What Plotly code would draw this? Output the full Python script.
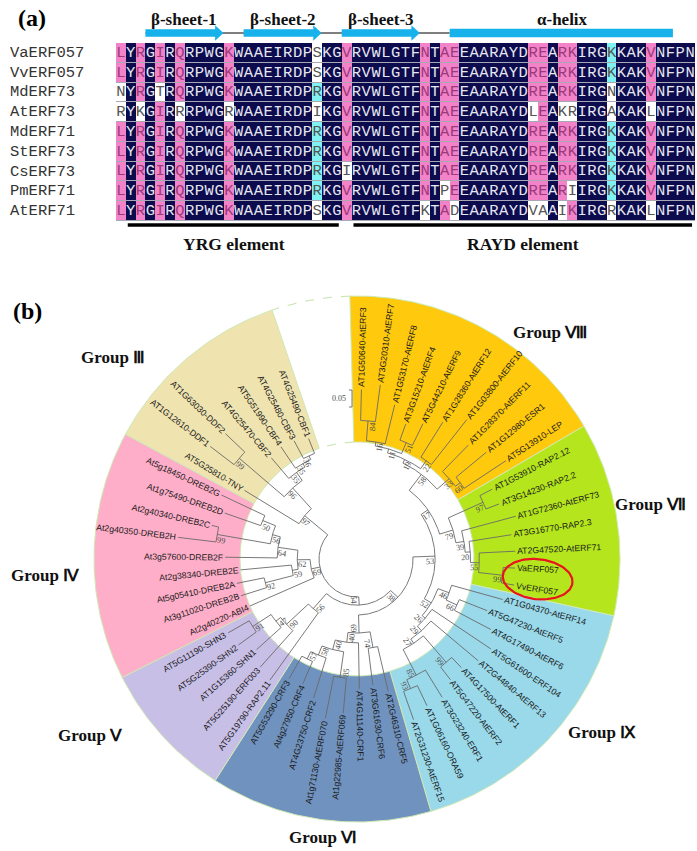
import math
import plotly.graph_objects as go

W, H = 697, 851

# ------------------------------------------------------------------ data (a)
SEQ_NAMES = ["VaERF057", "VvERF057", "MdERF73", "AtERF73", "MdERF71",
             "StERF73", "CsERF73", "PmERF71", "AtERF71"]
SEQUENCES = [
    "LYRGIRQRPWGKWAAEIRDPSKGVRVWLGTFNTAEEAARAYDREARKIRGKKAKVNFPN",
    "LYRGIRQRPWGKWAAEIRDPSKGVRVWLGTFNTAEEAARAYDREARKIRGKKAKVNFPN",
    "NYRGTRQRPWGKWAAEIRDPRKGVRVWLGTFNTAEEAARAYDREARKIRGNKAKVNFPN",
    "RYKGIRRRPWGRWAAEIRDPIKGVRVWLGTFNTAEEAARAYDLEAKRIRGAKAKLNFPN",
    "LYRGIRQRPWGKWAAEIRDPRKGVRVWLGTFNTAEEAARAYDREARKIRGKKAKVNFPN",
    "LYRGIRQRPWGKWAAEIRDPRKGVRVWLGTFNTAEEAARAYDREARKIRGKKAKVNFPN",
    "LYRGIRQRPWGKWAAEIRDPRKGIRVWLGTFNTAEEAARAYDREARKIRGKKAKVNFPN",
    "LYRGIRQRPWGKWAAEIRDPRKGVRVWLGTFNTPEEAARAYDREARIIRGKKAKVNFPN",
    "LYRGIRQRPWGKWAAEIRDPSKGVRVWLGTFKTADEAARAYDVAAIKIRGRKAKLNFPN",
]
SS_LABELS = ["β-sheet-1", "β-sheet-2", "β-sheet-3", "α-helix"]
SS_KIND = ["arrow", "arrow", "arrow", "helix"]
SS_FIRST = [3, 13, 23, 34]
SS_LAST = [10, 20, 30, 56]
ELEMENT_LABELS = ["YRG element", "RAYD element"]
ELEMENT_FIRST = [1, 24]
ELEMENT_LAST = [22, 58]

# ------------------------------------------------------------------ data (b)
GROUP_NAMES = ["Group Ⅷ", "Group Ⅶ", "Group Ⅸ", "Group Ⅵ", "Group Ⅴ", "Group Ⅳ", "Group Ⅲ"]
CLADE_VIII = ("(((((AT1G50640-AtERF3:0.091,AT3G20310-AtERF7:0.109)84:0.059,AT1G53170-AtERF8:0.118)16:0.012,"
              "(AT3G15210-AtERF4:0.050,AT5G44210-AtERF9:0.071)51:0.035)11:0.012,"
              "(AT1G28360-AtERF12:0.121,AT1G03800-AtERF10:0.168)22:0.029)19:0.012,"
              "(AT1G28370-AtERF11:0.109,(AT1G12980-ESR1:0.115,AT5G13910-LEP:0.147)60:0.018)33:0.047)58:0.059")
CLADE_VII = ("((AT1G53910-RAP2.12:0.041,AT3G14230-RAP2.2:0.041)97:0.112,(AT1G72360-AtERF73:0.165,"
             "(AT3G16770-RAP2.3:0.126,(AT2G47520-AtERF71:0.106,(VaERF057:0.035,VvERF057:0.038)99:0.071)55:0.026)20:0.015)39:0.024)79:0.041")
CLADE_IX = ("((AT1G04370-AtERF14:0.156,(AT5G47230-AtERF5:0.088,AT4G17490-AtERF6:0.121)66:0.035)46:0.035,"
            "(AT5G61600-ERF104:0.209,(AT2G44840-AtERF13:0.182,((AT4G17500-AtERF1:0.041,AT5G47220-AtERF2:0.047)99:0.103,"
            "(AT3G23240-ERF1:0.094,(AT1G06160-ORA59:0.065,AT2G31230-AtERF15:0.088)93:0.029)85:0.085)27:0.015)29:0.018)26:0.012)52:0.024")
CLADE_VI = ("((AT2G46310-CRF5:0.135,AT3G61630-CRF6:0.109)74:0.047,(AT4G11140-CRF1:0.135,"
            "((At1g22985-AtERF069:0.103,At1g71130-AtERF070:0.126)85:0.076,"
            "(AT4G23750-CRF2:0.124,(At4g27950-CRF4:0.071,AT5G53290-CRF3:0.076)57:0.024)58:0.029)40:0.029)40:0.029)69:0.053")
CLADE_V = ("(AT5G19790-RAP2.11:0.244,(AT5G25190-ERF003:0.144,(AT1G15360-SHN1:0.097,"
           "(AT5G25390-SHN2:0.065,AT5G11190-SHN3:0.071)91:0.065)47:0.018)90:0.088)56:0.059")
CLADE_IV = ("(At2g40220-ABI4:0.206,(((At3g11020-DREB2B:0.079,At5g05410-DREB2A:0.082)92:0.085,At2g38340-DREB2E:0.150)59:0.018,"
            "(At3g57600-DREB2F:0.153,((At2g40350-DREB2H:0.112,At2g40340-DREB2C:0.021)99:0.159,"
            "(At1g75490-DREB2D:0.112,At5g18450-DREB2G:0.141)50:0.041)56:0.024)64:0.059)62:0.038)69:0.026")
CLADE_III = ("(AT5G25810-TNY:0.188,((AT1G12610-DDF1:0.088,AT1G63030-DDF2:0.079)99:0.174,"
             "(AT4G25470-CBF2:0.079,(AT5G51990-CBF4:0.076,(AT4G25480-CBF3:0.059,AT4G25490-CBF1:0.047)36:0.012)35:0.012)35:0.029)96:0.082)97:0.088")
BACKBONE = "((((({VIII},{VII})17:0.024,{IX})53:0.065,{VI})38:0.029,{V})54:0.024,{IV},{III});"
CLADES = [CLADE_VIII, CLADE_VII, CLADE_IX, CLADE_VI, CLADE_V, CLADE_IV, CLADE_III]
HIGHLIGHT = ["VaERF057", "VvERF057"]
SCALE_BAR = 0.05

# ------------------------------------------------------------------ style
NAVY, PINK, CYAN, WHITE = "#0B0B4E", "#F283C8", "#80F2F2", "#FFFFFF"
TXT_ON = {3: "#E6E6EE", 2: "#9A3A7A", 1: "#555555", 0: "#555555"}
SKY = "#17B1EC"
SERIF = "Liberation Serif, Times New Roman, serif"
SANS = "Liberation Sans, Arial, sans-serif"
MONO = "Liberation Mono, Courier New, monospace"
GROUP_COLORS = ["#FFC90E", "#B5E61D", "#99D9EA", "#7092BE", "#C8BFE7", "#FFAEC9", "#EFE4B0"]
GROUP_LABEL_POLAR = [(49.6, 298), (10.5, 298), (-35.4, 300), (-97, 281), (213.4, 320), (183, 312), (140.5, 316)]
CX, CY = 357, 559          # tree centre in page pixels
R0, PX_PER_UNIT = 38, 340  # root radius, pixels per substitution unit
A0, DA = 88.5, 6.12        # first leaf angle, leaf spacing (deg)
R_IN, R_OUT = 117, 263
LEAF_FS, BOOT_FS = 8.7, 8.3

UP = "ABCDEFGHIJKLMNOPQRSTUVWXYZ"
UPW = [667, 667, 722, 722, 667, 611, 778, 722, 278, 500, 667, 556, 833, 722, 778, 667, 778, 722, 667, 611, 722, 667, 944, 667, 667, 611]
LO = "abcdefghijklmnopqrstuvwxyz"
LOW = [556, 556, 500, 556, 556, 278, 556, 556, 222, 222, 500, 222, 833, 556, 556, 556, 556, 333, 500, 278, 556, 500, 722, 500, 500, 500]
CW = dict(zip(UP, UPW)); CW.update(dict(zip(LO, LOW))); CW.update({"-": 333, ".": 278})


def text_w(s, size, serif=False):
    if serif:
        return len(s) * 500 / 1000 * size
    return sum(CW.get(ch, 556) for ch in s) / 1000 * size


def ann(**kw):
    d = dict(showarrow=False, xanchor="center", yanchor="middle")
    d.update(kw)
    return d


fig = go.Figure()
annotations, shapes = [], []

# =================================================================== panel (a)
nrow, ncol = len(SEQUENCES), len(SEQUENCES[0])
z = [[0] * ncol for _ in range(nrow)]
for c in range(ncol):
    col = [s[c] for s in SEQUENCES]
    counts = {}
    for a in col:
        counts[a] = counts.get(a, 0) + 1
    top = max(counts, key=counts.get)
    frac = counts[top] / nrow
    lvl = 3 if frac == 1 else (2 if frac >= 0.75 else (1 if frac >= 0.5 else 0))
    for r in range(nrow):
        z[r][c] = lvl if col[r] == top else 0

shapes.append(dict(type="rect", xref="x", yref="y", x0=-0.5, x1=ncol - 0.5, y0=-0.5, y1=nrow - 0.5,
                   fillcolor="#A8A8B4", line=dict(width=0), layer="below"))
fig.add_trace(go.Heatmap(z=z, x=list(range(ncol)), y=list(range(nrow)), zmin=0, zmax=3,
                         colorscale=[[0, WHITE], [0.1667, WHITE], [0.1667, CYAN], [0.5, CYAN],
                                     [0.5, PINK], [0.8333, PINK], [0.8333, NAVY], [1, NAVY]],
                         showscale=False, ygap=1, hoverinfo="skip", xaxis="x", yaxis="y"))
lx, ly, lt, lc = [], [], [], []
for r in range(nrow):
    for c in range(ncol):
        lx.append(c); ly.append(r); lt.append(SEQUENCES[r][c]); lc.append(TXT_ON[z[r][c]])
fig.add_trace(go.Scatter(x=lx, y=ly, text=lt, mode="text", cliponaxis=False, hoverinfo="skip",
                         textfont=dict(family=MONO, size=15.5, color=lc), xaxis="x", yaxis="y"))
for r, name in enumerate(SEQ_NAMES):
    annotations.append(ann(xref="paper", yref="y", x=8 / W, y=r, xanchor="left",
                           text=name, font=dict(family=MONO, size=15.5, color="#333333")))

# secondary structure header
yc = 1 - 33 / H
body, head, hlen = 3.8 / H, 7.8 / H, 0.85
shapes.append(dict(type="line", xref="x", yref="paper", x0=SS_FIRST[0] - 0.5, x1=SS_FIRST[-1] - 0.5,
                   y0=yc, y1=yc, line=dict(color="black", width=1), layer="below"))
for lab, kind, f, l in zip(SS_LABELS, SS_KIND, SS_FIRST, SS_LAST):
    x0, x1 = f - 0.5, l + 0.45
    if kind == "arrow":
        xh = x1 - hlen
        path = (f"M {x0},{yc - body} L {xh},{yc - body} L {xh},{yc - head} L {x1},{yc} "
                f"L {xh},{yc + head} L {xh},{yc + body} L {x0},{yc + body} Z")
        shapes.append(dict(type="path", xref="x", yref="paper", path=path, fillcolor=SKY, line=dict(width=0)))
    else:
        shapes.append(dict(type="rect", xref="x", yref="paper", x0=x0, x1=x1 - 0.2, y0=yc - 4.2 / H, y1=yc + 4.2 / H,
                           fillcolor=SKY, line=dict(width=0)))
    annotations.append(ann(xref="x", yref="paper", x=(x0 + x1) / 2, y=1 - 20 / H, text=f"<b>{lab}</b>",
                           font=dict(family=SERIF, size=17, color="#111111")))

for lab, f, l in zip(ELEMENT_LABELS, ELEMENT_FIRST, ELEMENT_LAST):
    shapes.append(dict(type="line", xref="x", yref="paper", x0=f - 0.3, x1=l + 0.2, y0=1 - 225 / H, y1=1 - 225 / H,
                       line=dict(color="black", width=3.5)))
    annotations.append(ann(xref="x", yref="paper", x=(f + l) / 2, y=1 - 244 / H, text=f"<b>{lab}</b>",
                           font=dict(family=SERIF, size=17.5, color="#111111")))

annotations.append(ann(xref="paper", yref="paper", x=32 / W, y=1 - 18 / H, text="<b>(a)</b>",
                       font=dict(family=SERIF, size=24, color="black")))
annotations.append(ann(xref="paper", yref="paper", x=28 / W, y=1 - 311 / H, text="<b>(b)</b>",
                       font=dict(family=SERIF, size=24, color="black")))

# =================================================================== panel (b)


def parse_newick(s):
    s = s.strip().rstrip(";")
    pos = [0]

    def node():
        n = {"children": [], "label": "", "bl": 0.0}
        if s[pos[0]] == "(":
            pos[0] += 1
            while True:
                n["children"].append(node())
                if s[pos[0]] == ",":
                    pos[0] += 1
                else:
                    pos[0] += 1
                    break
        j = pos[0]
        while pos[0] < len(s) and s[pos[0]] not in ":,)":
            pos[0] += 1
        n["label"] = s[j:pos[0]]
        if pos[0] < len(s) and s[pos[0]] == ":":
            pos[0] += 1
            j = pos[0]
            while pos[0] < len(s) and s[pos[0]] not in ",)":
                pos[0] += 1
            n["bl"] = float(s[j:pos[0]])
        return n
    return node()


def leaf_names(n, out):
    if not n["children"]:
        out.append(n["label"])
    for c in n["children"]:
        leaf_names(c, out)
    return out


group_of = {}
for gi, cl in enumerate(CLADES):
    for nm in leaf_names(parse_newick(cl), []):
        group_of[nm] = gi

root = parse_newick(BACKBONE.format(VIII=CLADE_VIII, VII=CLADE_VII, IX=CLADE_IX, VI=CLADE_VI,
                                    V=CLADE_V, IV=CLADE_IV, III=CLADE_III))
leaves, internals = [], []


def layout(n, depth):
    n["r"] = R0 + depth * PX_PER_UNIT
    if not n["children"]:
        n["k"] = len(leaves)
        n["a"] = A0 - DA * n["k"]
        leaves.append(n)
    else:
        for c in n["children"]:
            layout(c, depth + c["bl"])
        n["a"] = (n["children"][0]["a"] + n["children"][-1]["a"]) / 2
        internals.append(n)


layout(root, 0.0)


def pol(r, a):
    t = math.radians(a)
    return r * math.cos(t), r * math.sin(t)


def arc(r, a1, a2, step=0.8):
    n = max(2, int(abs(a2 - a1) / step) + 1)
    return [pol(r, a1 + (a2 - a1) * i / n) for i in range(n + 1)]


# group sectors
for gi in range(len(CLADES)):
    ks = [lf["k"] for lf in leaves if group_of[lf["label"]] == gi]
    a_start = A0 - DA * min(ks) + DA / 2
    a_end = A0 - DA * max(ks) - DA / 2
    pts = arc(R_OUT, a_start, a_end) + arc(R_IN, a_end, a_start)
    pts.append(pts[0])
    fig.add_trace(go.Scatter(x=[p[0] for p in pts], y=[p[1] for p in pts], mode="lines", fill="toself",
                             fillcolor=GROUP_COLORS[gi], line=dict(color="#CFE8B4", width=1),
                             hoverinfo="skip", xaxis="x2", yaxis="y2"))
    ga, gr = GROUP_LABEL_POLAR[gi]
    gx, gy = pol(gr, ga)
    annotations.append(ann(xref="x2", yref="y2", x=gx, y=gy, text=f"<b>{GROUP_NAMES[gi]}</b>",
                           font=dict(family=SERIF, size=17, color="#111111")))

# dashed arcs over the gap
gap_a1 = A0 + DA / 2
gap_a2 = A0 - DA * (len(leaves) - 1) - DA / 2 + 360
for rr in (R_OUT, R_IN):
    pts = arc(rr, gap_a1, gap_a2)
    fig.add_trace(go.Scatter(x=[p[0] for p in pts], y=[p[1] for p in pts], mode="lines",
                             line=dict(color="#C6E4A8", width=1, dash="dash"), hoverinfo="skip",
                             xaxis="x2", yaxis="y2"))

# branches
bx, by = [], []
for n in internals:
    pts = arc(n["r"], n["children"][0]["a"], n["children"][-1]["a"])
    bx += [p[0] for p in pts] + [None]
    by += [p[1] for p in pts] + [None]
    for c in n["children"]:
        p0, p1 = pol(n["r"], c["a"]), pol(c["r"], c["a"])
        bx += [p0[0], p1[0], None]
        by += [p0[1], p1[1], None]
fig.add_trace(go.Scatter(x=bx, y=by, mode="lines", line=dict(color="#6A6A6A", width=0.9),
                         hoverinfo="skip", xaxis="x2", yaxis="y2"))


def radial_angle(a):
    tn = ((a + 180) % 360) - 180
    right = math.cos(math.radians(tn)) >= 0
    if right:
        return -tn, True
    tn2 = tn - 180 if tn > 0 else tn + 180
    return -tn2, False


# leaf labels
label_centre = {}
for lf in leaves:
    w = text_w(lf["label"], LEAF_FS)
    rc = lf["r"] + 2 + w / 2
    x, y = pol(rc, lf["a"])
    label_centre[lf["label"]] = (x, y, lf["a"])
    ang, _ = radial_angle(lf["a"])
    annotations.append(ann(xref="x2", yref="y2", x=x, y=y, text=lf["label"], textangle=ang,
                           font=dict(family=SANS, size=LEAF_FS, color="#1A1A1A")))

# bootstrap values
for n in internals:
    if not n["label"]:
        continue
    w = text_w(n["label"], BOOT_FS, serif=True)
    ang, right = radial_angle(n["a"])
    rc = n["r"] - w / 2 - 1
    x, y = pol(rc, n["a"])
    t = math.radians(n["a"])
    off = -5 if right else 5
    x += off * (-math.sin(t))
    y += off * math.cos(t)
    annotations.append(ann(xref="x2", yref="y2", x=x, y=y, text=n["label"], textangle=ang,
                           font=dict(family=SERIF, size=BOOT_FS, color="#505050")))

# highlight ellipse
(xa, ya, aa), (xb, yb, ab) = label_centre[HIGHLIGHT[0]], label_centre[HIGHLIGHT[1]]
ecx, ecy = (xa + xb) / 2, (ya + yb) / 2
phi = math.radians((aa + ab) / 2)
ex, ey = [], []
for i in range(121):
    t = 2 * math.pi * i / 120
    u, v = 35 * math.cos(t), 20 * math.sin(t)
    ex.append(ecx + u * math.cos(phi) - v * math.sin(phi))
    ey.append(ecy + u * math.sin(phi) + v * math.cos(phi))
fig.add_trace(go.Scatter(x=ex, y=ey, mode="lines", line=dict(color="#E8141E", width=2.2),
                         hoverinfo="skip", xaxis="x2", yaxis="y2"))

# scale bar
sb_x, sb_y = -5, 152
sb_len = SCALE_BAR * PX_PER_UNIT
fig.add_trace(go.Scatter(x=[sb_x - 3, sb_x, sb_x, sb_x - 3], y=[sb_y, sb_y, sb_y + sb_len, sb_y + sb_len],
                         mode="lines", line=dict(color="#6A6A6A", width=0.9), hoverinfo="skip",
                         xaxis="x2", yaxis="y2"))
annotations.append(ann(xref="x2", yref="y2", x=sb_x - 4, y=sb_y + sb_len / 2, text=f"{SCALE_BAR:.2f}",
                       xanchor="right", font=dict(family=SERIF, size=8, color="#505050")))

fig.update_layout(
    width=W, height=H, margin=dict(l=0, r=0, t=0, b=0),
    paper_bgcolor="white", plot_bgcolor="rgba(0,0,0,0)", showlegend=False,
    xaxis=dict(domain=[116 / W, 695 / W], range=[-0.5, ncol - 0.5], visible=False, anchor="y", fixedrange=True),
    yaxis=dict(domain=[1 - 221 / H, 1 - 43 / H], range=[nrow - 0.5, -0.5], visible=False, anchor="x", fixedrange=True),
    xaxis2=dict(domain=[0, 1], range=[-CX, W - CX], visible=False, anchor="y2", fixedrange=True),
    yaxis2=dict(domain=[0, (H - 270) / H], range=[-(H - CY), CY - 270], visible=False, anchor="x2", fixedrange=True),
    annotations=annotations, shapes=shapes,
)
fig.write_html("out.html", config={"displayModeBar": False, "staticPlot": True},
               post_script="document.body.style.margin='0';document.body.style.overflow='hidden';")
